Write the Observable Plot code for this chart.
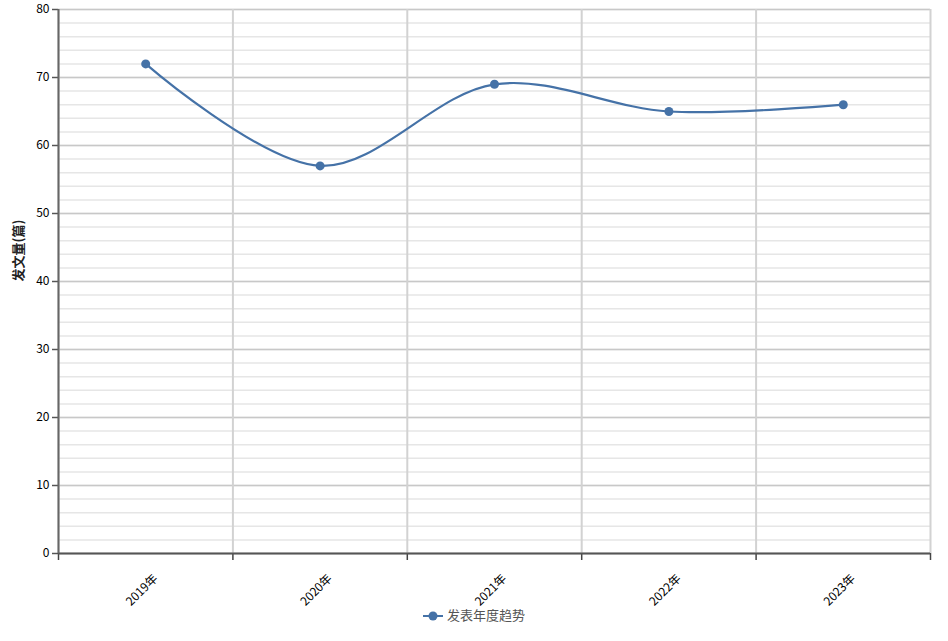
<!DOCTYPE html>
<html><head><meta charset="utf-8">
<script src="https://cdn.jsdelivr.net/npm/d3@7"></script>
<script src="https://cdn.jsdelivr.net/npm/@observablehq/plot@0.6"></script>
<style>
body{margin:0;background:#fff;font-family:"Noto Sans CJK SC","Noto Sans",sans-serif;position:relative;}
#legend{position:absolute;left:0;top:600px;width:948px;height:30px;line-height:30px;text-align:center;font-size:13px;color:#555;}
#legend svg{vertical-align:middle;margin-right:4px;}
</style></head><body>
<div id="chart"></div>
<div id="legend"></div>
<script>
const years = ["2019年", "2020年", "2021年", "2022年", "2023年"];
const counts = [72, 57, 69, 65, 66];
const yMajorTicks = [0, 10, 20, 30, 40, 50, 60, 70, 80];
const yMinorTicks = [0, 2, 4, 6, 8, 10, 12, 14, 16, 18, 20, 22, 24, 26, 28, 30, 32, 34, 36, 38, 40, 42, 44, 46, 48, 50, 52, 54, 56, 58, 60, 62, 64, 66, 68, 70, 72, 74, 76, 78, 80];
const seriesName = "发表年度趋势";
const yLabel = "发文量(篇)";
const lineColor = "#4572a7";

const data = years.map((year, i) => ({year, idx: i + 0.5, count: counts[i]}));
const bounds = years.map((_, i) => i).concat([years.length]);
const centers = data.map(d => d.idx);

const chart = Plot.plot({
  width: 948, height: 641,
  marginLeft: 58, marginRight: 18, marginTop: 9, marginBottom: 88,
  style: {fontFamily: '"Noto Sans CJK SC","Noto Sans",sans-serif', fontSize: "12px", color: "#000", background: "#fff"},
  x: {domain: [0, years.length]},
  y: {domain: [0, 80]},
  marks: [
    Plot.gridY(yMinorTicks, {stroke: "#e6e6e6", strokeOpacity: 1, strokeWidth: 1.5}),
    Plot.gridY(yMajorTicks, {stroke: "#c8c8c8", strokeOpacity: 1, strokeWidth: 1.5}),
    Plot.gridX(bounds, {stroke: "#d2d2d2", strokeOpacity: 1, strokeWidth: 2}),
    Plot.axisY(yMajorTicks, {tickSize: 6, tickPadding: 3, stroke: "#555", strokeWidth: 1.5, label: null, fontSize: 12, fill: "#000"}),
    Plot.axisX(bounds, {tickSize: 7, tickFormat: () => "", stroke: "#444", strokeWidth: 1.5, label: null}),
    Plot.axisX(centers, {tickSize: 0, tickPadding: 10, tickRotate: -45, tickFormat: d => years[Math.round(d - 0.5)], label: null, fontSize: 12, fill: "#000", dx: 10, dy: 13}),
    Plot.ruleY([0], {stroke: "#555", strokeWidth: 2}),
    Plot.ruleX([0], {stroke: "#666", strokeWidth: 2}),
    Plot.line(data, {x: "idx", y: "count", curve: "catmull-rom", stroke: lineColor, strokeWidth: 2.2}),
    Plot.dot(data, {x: "idx", y: "count", r: 4.5, fill: lineColor, stroke: "none"}),
    Plot.text([yLabel], {frameAnchor: "left", dx: -40, rotate: -90, fontWeight: "bold", fontSize: 13, fill: "#222"})
  ]
});
document.getElementById("chart").appendChild(chart);

document.getElementById("legend").innerHTML =
  `<svg width="20" height="10"><line x1="0" y1="5" x2="20" y2="5" stroke="${lineColor}" stroke-width="2"/><circle cx="10" cy="5" r="4.5" fill="${lineColor}"/></svg>${seriesName}`;
</script>
</body></html>
